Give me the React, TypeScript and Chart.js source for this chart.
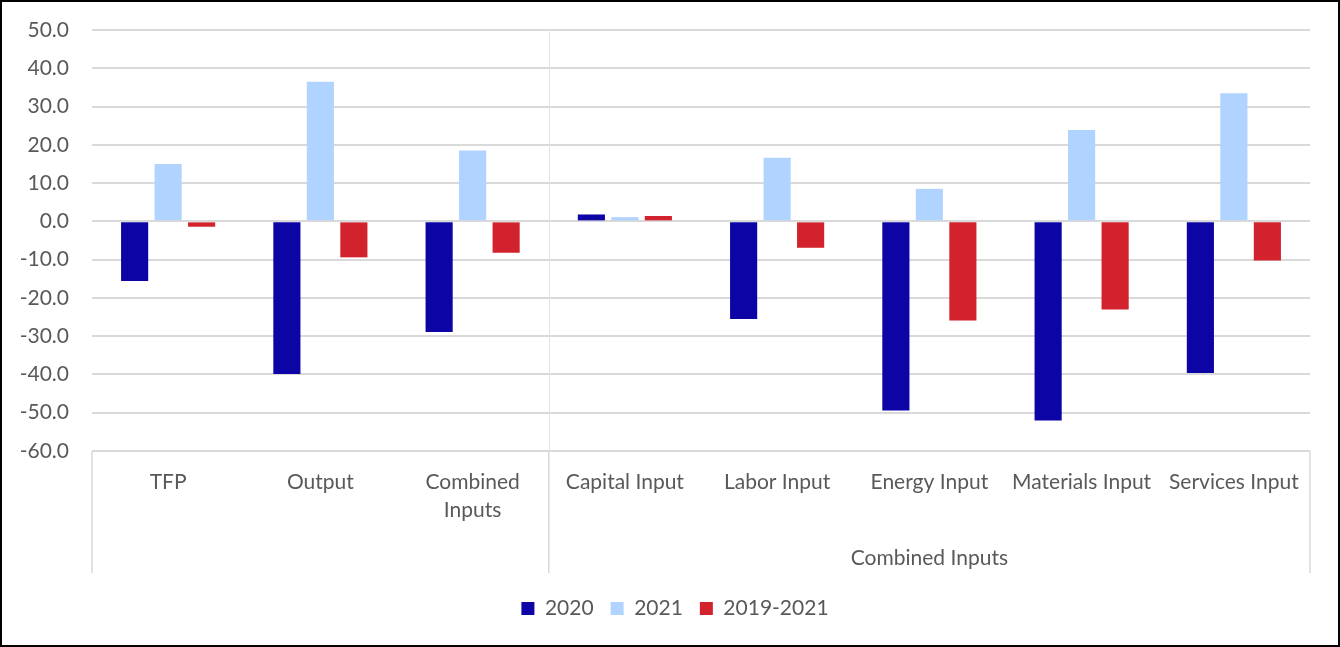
import React, { useEffect, useRef } from "react";
import { Chart, registerables } from "chart.js";

Chart.register(...registerables);

const categories: string[][] = [
  ["TFP"],
  ["Output"],
  ["Combined", "Inputs"],
  ["Capital Input"],
  ["Labor Input"],
  ["Energy Input"],
  ["Materials Input"],
  ["Services Input"],
];
const seriesNames = ["2020", "2021", "2019-2021"];
const values2020 = [-15.6, -39.9, -28.9, 1.8, -25.5, -49.4, -52.0, -39.6];
const values2021 = [15.0, 36.5, 18.5, 1.1, 16.6, 8.5, 23.9, 33.5];
const values2019to2021 = [-1.4, -9.4, -8.2, 1.4, -6.9, -25.9, -23.0, -10.2];
const groupLabel = "Combined Inputs";
const groupStartIndex = 3;
const yMin = -60;
const yMax = 50;
const yStep = 10;

const COLORS = ["#0D04A6", "#B0D3FF", "#D2222D"];
const TEXT = "#595959";
const GRID = "#D9D9D9";
const FONT = "Lato";
const FONT_SIZE = 21;

const groupPlugin = {
  id: "groupPlugin",
  afterDraw(chart: any) {
    const { ctx, chartArea, scales } = chart;
    const x = scales.x;
    const divX = (x.getPixelForValue(groupStartIndex - 1) + x.getPixelForValue(groupStartIndex)) / 2;
    const axisBottom = chartArea.bottom + 122;
    ctx.save();
    ctx.strokeStyle = "#E3E3E3";
    ctx.lineWidth = 1;
    ctx.beginPath();
    ctx.moveTo(Math.round(divX) + 0.5, chartArea.top);
    ctx.lineTo(Math.round(divX) + 0.5, chartArea.bottom);
    ctx.stroke();
    ctx.strokeStyle = GRID;
    ctx.lineWidth = 1.5;
    [chartArea.left, divX, chartArea.right].forEach((px) => {
      ctx.beginPath();
      ctx.moveTo(px, chartArea.bottom);
      ctx.lineTo(px, axisBottom);
      ctx.stroke();
    });
    ctx.fillStyle = TEXT;
    ctx.font = `${FONT_SIZE}px ${FONT}`;
    ctx.textAlign = "center";
    ctx.textBaseline = "middle";
    ctx.fillText(groupLabel, (divX + chartArea.right) / 2, chartArea.bottom + 107);
    ctx.restore();
  },
};

export default function App() {
  const ref = useRef<HTMLCanvasElement | null>(null);

  useEffect(() => {
    if (!ref.current) return;
    const chart = new Chart(ref.current, {
      type: "bar",
      data: {
        labels: categories,
        datasets: [values2020, values2021, values2019to2021].map((d, i) => ({
          label: seriesNames[i],
          data: d,
          backgroundColor: COLORS[i],
          borderWidth: 0,
          categoryPercentage: 0.66,
          barPercentage: 0.81,
        })),
      },
      options: {
        animation: false,
        responsive: false,
        layout: { padding: { top: 30, right: 0, left: 10, bottom: 18 } },
        plugins: {
          tooltip: { enabled: false },
          legend: {
            position: "bottom",
            labels: {
              boxWidth: 13,
              boxHeight: 13,
              padding: 17,
              color: TEXT,
              font: { family: FONT, size: FONT_SIZE },
            },
          },
        },
        scales: {
          x: {
            grid: { display: false, drawTicks: false },
            border: { display: false },
            ticks: {
              color: TEXT,
              font: { family: FONT, size: FONT_SIZE, lineHeight: 1.35 },
              padding: 17,
              maxRotation: 0,
              autoSkip: false,
            },
            afterFit(scale: any) {
              scale.height = 130;
              scale.paddingRight = 30;
            },
          },
          y: {
            min: yMin,
            max: yMax,
            grid: { color: GRID, lineWidth: 2, drawTicks: false },
            border: { display: false },
            ticks: {
              stepSize: yStep,
              color: TEXT,
              font: { family: FONT, size: FONT_SIZE },
              padding: 23,
              callback: (v: any) => Number(v).toFixed(1),
            },
            afterFit(scale: any) {
              scale.width = 82;
              scale.paddingTop = 0;
              scale.paddingBottom = 0;
            },
          },
        },
      },
      plugins: [groupPlugin],
    });
    return () => chart.destroy();
  }, []);

  return (
    <div style={{ position: "absolute", left: 0, top: 0, width: 1340, height: 647, background: "#fff" }}>
      <canvas ref={ref} width={1340} height={647} style={{ position: "absolute", left: 0, top: 0 }} />
      <div
        style={{
          position: "absolute",
          left: 0,
          top: 0,
          width: 1340,
          height: 647,
          boxSizing: "border-box",
          border: "2px solid #000",
          pointerEvents: "none",
        }}
      />
    </div>
  );
}
